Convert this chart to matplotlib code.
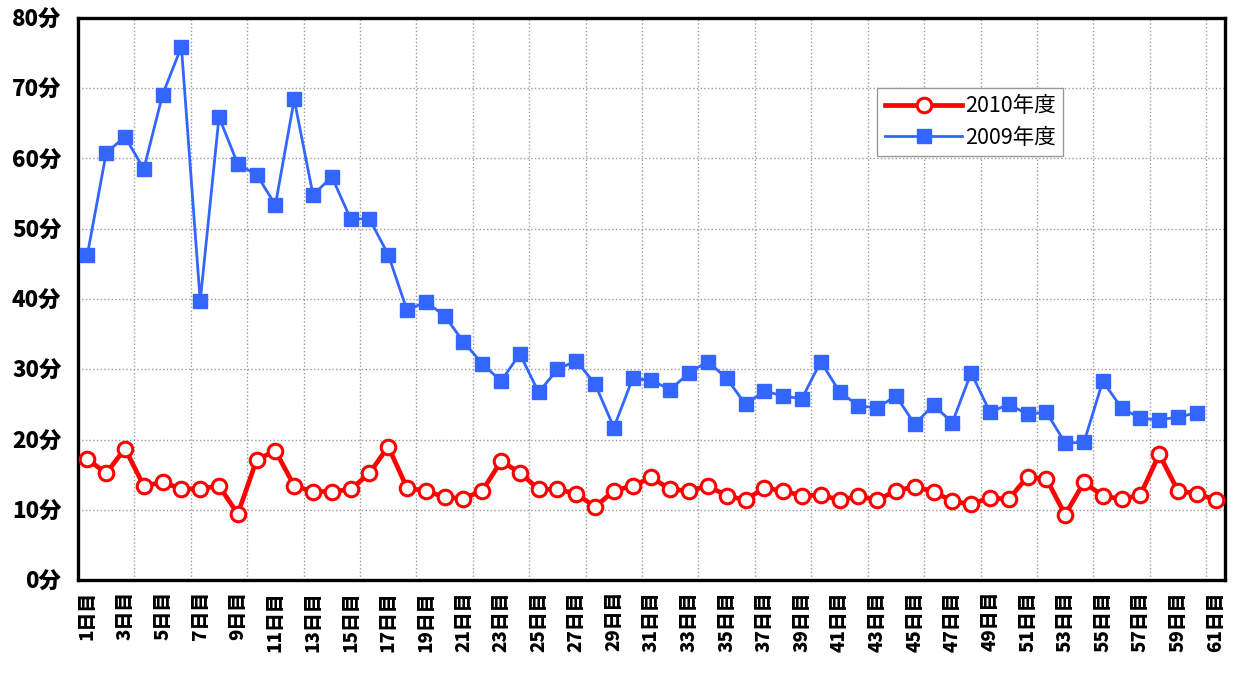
import matplotlib
matplotlib.use("Agg")
import matplotlib.pyplot as plt
from matplotlib.ticker import FixedLocator

plt.rcParams["font.family"] = ["Noto Sans CJK JP", "DejaVu Sans"]

# daily values (minutes)
days = list(range(1, 62))
day_labels = [f"{d}日目" for d in days]

# 2010年度 has 61 days
y2010 = [17.2, 15.2, 18.7, 13.4, 13.9, 13.0, 13.0, 13.4, 9.4, 17.1,
         18.4, 13.4, 12.6, 12.6, 12.9, 15.2, 19.0, 13.1, 12.7, 11.8,
         11.6, 12.7, 16.9, 15.3, 12.9, 12.9, 12.3, 10.4, 12.7, 13.4,
         14.6, 12.9, 12.7, 13.4, 12.0, 11.4, 13.1, 12.7, 12.0, 12.1,
         11.4, 11.9, 11.4, 12.7, 13.3, 12.6, 11.2, 10.8, 11.7, 11.5,
         14.7, 14.4, 9.3, 13.9, 12.0, 11.5, 12.1, 17.9, 12.7, 12.3,
         11.4]

# 2009年度 has 60 days
y2009 = [46.3, 60.8, 63.1, 58.5, 69.1, 75.9, 39.7, 65.9, 59.2, 57.7,
         53.4, 68.4, 54.8, 57.4, 51.4, 51.4, 46.3, 38.4, 39.6, 37.6,
         33.9, 30.8, 28.3, 32.2, 26.7, 30.0, 31.2, 27.9, 21.7, 28.7,
         28.4, 27.1, 29.5, 31.1, 28.7, 25.0, 26.9, 26.2, 25.8, 31.1,
         26.8, 24.8, 24.5, 26.2, 22.2, 24.9, 22.4, 29.5, 23.9, 25.0,
         23.6, 23.9, 19.5, 19.6, 28.3, 24.5, 23.0, 22.8, 23.2, 23.8]

y_ticks = [0, 10, 20, 30, 40, 50, 60, 70, 80]

fig = plt.figure(figsize=(12.34, 6.78), dpi=100)
ax = fig.add_axes([0.0632, 0.1445, 0.9295, 0.829])

ax.plot(days, y2010, color="#ff0000", linewidth=3.4, marker="o", markersize=10.5,
        markerfacecolor="white", markeredgecolor="#ff0000", markeredgewidth=2.2,
        label="2010年度", zorder=4)
ax.plot(days[:len(y2009)], y2009, color="#3366ff", linewidth=2, marker="s", markersize=10.5,
        markerfacecolor="#3366ff", markeredgecolor="#3366ff",
        label="2009年度", zorder=3)

ax.set_xlim(0.5, 61.5)
ax.set_ylim(0, 80)

ax.set_yticks(y_ticks)
ax.set_yticklabels([f"{v}分" for v in y_ticks], fontsize=16, fontweight="black")
ax.set_xticks(days[::2])
ax.set_xticklabels(day_labels[::2], rotation=90, fontsize=13.5, fontweight="black")
ax.xaxis.set_minor_locator(FixedLocator([0.5 + 3 * k for k in range(1, 21)]))

ax.tick_params(axis="both", which="both", length=0)
ax.tick_params(axis="y", pad=12)
ax.tick_params(axis="x", pad=8)

ax.grid(True, axis="y", which="major", linestyle=":", color="#999999", linewidth=1)
ax.grid(True, axis="x", which="minor", linestyle=":", color="#999999", linewidth=1)
ax.set_axisbelow(True)

for sp in ax.spines.values():
    sp.set_linewidth(2.4)
    sp.set_color("black")

leg = ax.legend(loc="upper left", bbox_to_anchor=(0.697, 0.876), fontsize=15.5,
                frameon=True, fancybox=False, borderpad=0.35, handlelength=3.6,
                handletextpad=0.1, labelspacing=0.45, borderaxespad=0)
leg.get_frame().set_edgecolor("#999999")
leg.get_frame().set_linewidth(1)
leg.get_frame().set_alpha(1)

fig.savefig("out.png", dpi=100)
